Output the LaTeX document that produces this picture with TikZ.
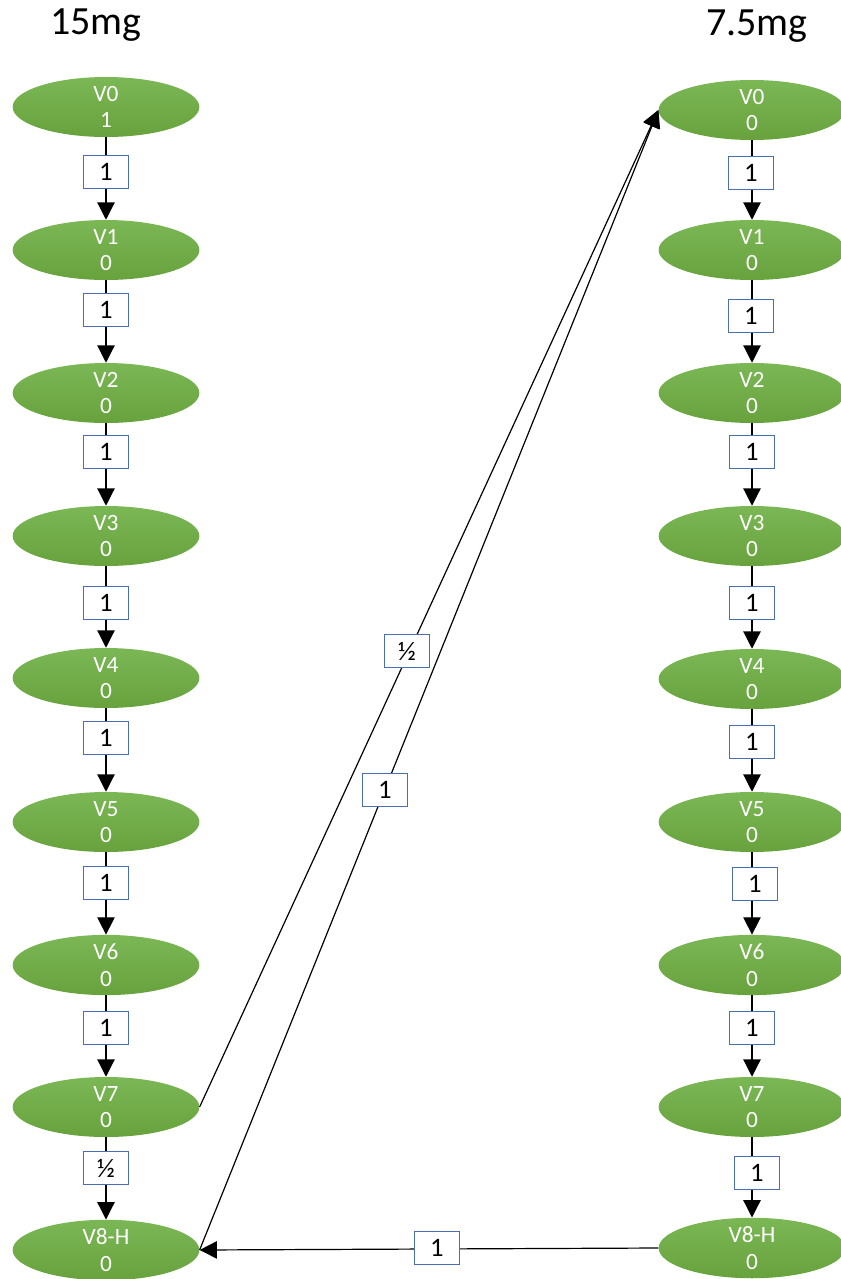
\documentclass[tikz,border=0pt]{standalone}
\usepackage{fontspec}
\setmainfont{Carlito}
\usetikzlibrary{arrows.meta,shapes.geometric}
\definecolor{gtop}{HTML}{7BB755}
\definecolor{gbot}{HTML}{67A23D}
\definecolor{boxblue}{HTML}{4A6EB0}
\tikzset{
 state/.style={ellipse, minimum width=140pt, minimum height=45pt, inner sep=0pt,
   top color=gtop, bottom color=gbot, draw=none, text=white, align=center,
   font=\fontsize{17.5}{20}\selectfont},
 wt/.style={draw=boxblue, line width=0.8pt, fill=white, minimum width=34pt,
   minimum height=25pt, inner sep=0pt, font=\fontsize{20}{20}\selectfont},
 flow/.style={line width=0.9pt, -{Triangle[length=13pt,width=13pt]}},
 ttl/.style={font=\fontsize{30}{30}\selectfont}
}
\begin{document}
\begin{tikzpicture}[x=0.75pt,y=-0.75pt]
\useasboundingbox (0,0) rectangle (840,1279);
\node[ttl] (t1) at (96,25) {15mg};
\node[ttl] (t2) at (757,26) {7.5mg};
% left column
\node[state] (L0) at (106,107) {V0\\1};
\node[state] (L1) at (106,250) {V1\\0};
\node[state] (L2) at (106,393) {V2\\0};
\node[state] (L3) at (106,536) {V3\\0};
\node[state] (L4) at (106,678) {V4\\0};
\node[state] (L5) at (106,822) {V5\\0};
\node[state] (L6) at (106,965) {V6\\0};
\node[state] (L7) at (106,1107) {V7\\0};
\node[state] (L8) at (106,1250) {V8-H\\0};
% right column
\node[state] (R0) at (752,110) {V0\\0};
\node[state] (R1) at (752,250) {V1\\0};
\node[state] (R2) at (752,393) {V2\\0};
\node[state] (R3) at (752,536) {V3\\0};
\node[state] (R4) at (752,679) {V4\\0};
\node[state] (R5) at (752,822) {V5\\0};
\node[state] (R6) at (752,965) {V6\\0};
\node[state] (R7) at (752,1107) {V7\\0};
\node[state] (R8) at (752,1248) {V8-H\\0};
% edges
\foreach \a/\b in {0/1,1/2,2/3,3/4,4/5,5/6,6/7,7/8}{
  \draw[flow] (L\a.south) -- (L\b.north);
  \draw[flow] (R\a.south) -- (R\b.north);
}
\draw[flow] (L7.east) -- (R0.west);
\draw[flow] (L8.east) -- (R0.west);
\draw[flow] (R8.west) -- (L8.east);
% weights left
\node[wt] (wl0) at (106,172) {1};
\node[wt] (wl1) at (106,310) {1};
\node[wt] (wl2) at (106,452) {1};
\node[wt] (wl3) at (106,603) {1};
\node[wt] (wl4) at (106,738) {1};
\node[wt] (wl5) at (106,883) {1};
\node[wt] (wl6) at (106,1028) {1};
\node[wt] (wl7) at (106,1168) {½};
% weights right
\node[wt] (wr0) at (751,173) {1};
\node[wt] (wr1) at (751,316) {1};
\node[wt] (wr2) at (752,452) {1};
\node[wt] (wr3) at (752,603) {1};
\node[wt] (wr4) at (752,742) {1};
\node[wt] (wr5) at (755,884) {1};
\node[wt] (wr6) at (752,1028) {1};
\node[wt] (wr7) at (757,1173) {1};
% cross weights
\node[wt] (wd1) at (407,651) {½};
\node[wt] (wd2) at (385,790) {1};
\node[wt] (wh) at (437,1248) {1};
\end{tikzpicture}
\end{document}
